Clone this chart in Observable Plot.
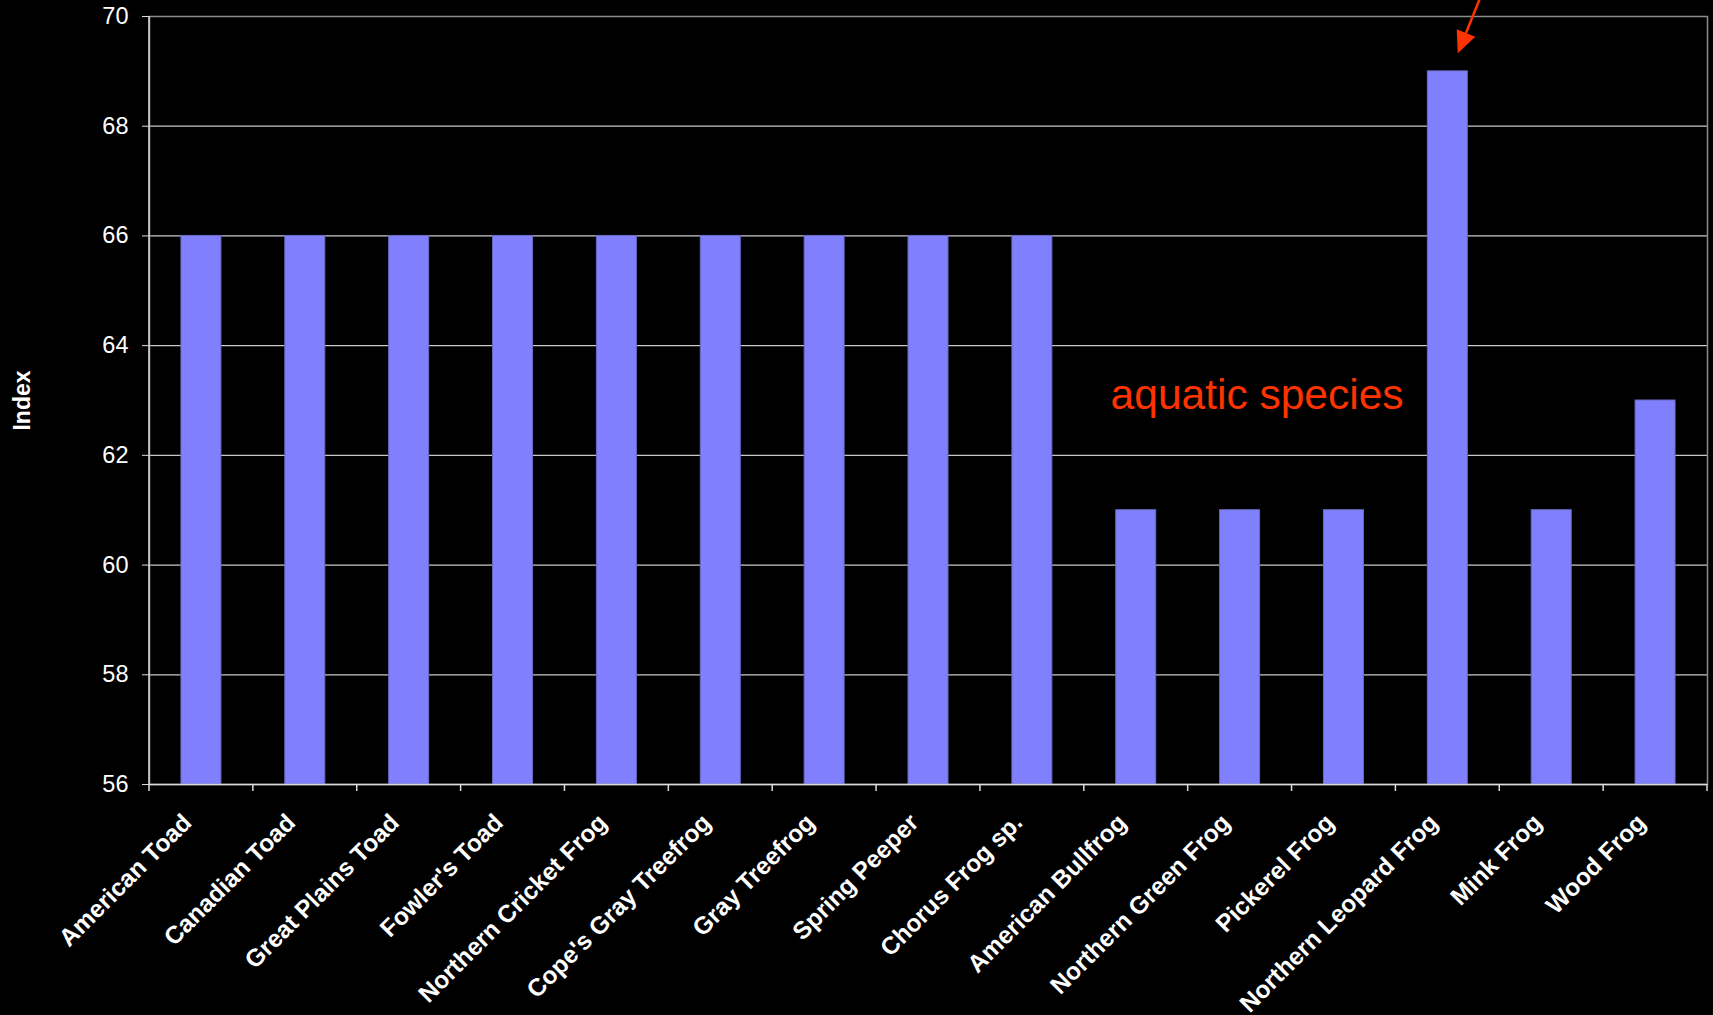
<!DOCTYPE html>
<html>
<head>
<meta charset="utf-8">
<script src="https://cdn.jsdelivr.net/npm/d3@7"></script>
<script src="https://cdn.jsdelivr.net/npm/@observablehq/plot@0.6"></script>
<style>
  html, body { margin: 0; padding: 0; background: #000; }
  #chart svg { display: block; }
</style>
</head>
<body>
<div id="chart"></div>
<script>
// Call index per species
const species = [
  "American Toad", "Canadian Toad", "Great Plains Toad", "Fowler's Toad",
  "Northern Cricket Frog", "Cope's Gray Treefrog", "Gray Treefrog",
  "Spring Peeper", "Chorus Frog sp.", "American Bullfrog",
  "Northern Green Frog", "Pickerel Frog", "Northern Leopard Frog",
  "Mink Frog", "Wood Frog"
];
const indexValues = [66, 66, 66, 66, 66, 66, 66, 66, 66, 61, 61, 61, 69, 61, 63];

const yTicks = [56, 58, 60, 62, 64, 66, 68, 70];
const yMin = 56, yMax = 70;

// Annotation text and the bar the arrow points at
const noteText = "aquatic species";
const noteSpecies = "Northern Green Frog";
const noteIndex = 63.1;
const arrowSpecies = "Northern Leopard Frog";
const arrowFromIndex = 70.7;   // starts above the plot, off the top edge
const arrowToIndex = 69.32;
const arrowFromShift = 0.395;  // horizontal shift from band centre, in band steps
const arrowToShift = 0.1;

const rows = species.map((s, i) => ({species: s, index: indexValues[i]}));

const FONT = "'Liberation Sans', Arial, Helvetica, sans-serif";
const RED = "#ff3300";

// Left axis line
function leftAxisLine(index, scales, values, dims) {
  const g = d3.create("svg:g");
  g.append("line")
    .attr("x1", dims.marginLeft).attr("x2", dims.marginLeft)
    .attr("y1", dims.marginTop).attr("y2", dims.height - dims.marginBottom)
    .attr("stroke", "#dcdcdc").attr("stroke-width", 1.5);
  return g.node();
}

// Category tick marks on the band boundaries
function boundaryTicks(index, scales, values, dims) {
  const x = scales.x;
  const step = x.step();
  const bw = x.bandwidth();
  const y0 = scales.y(yMin);
  const g = d3.create("svg:g").attr("stroke", "#dcdcdc").attr("stroke-width", 1.5);
  const edges = species.map(s => x(s) + bw / 2 - step / 2);
  edges.push(x(species[species.length - 1]) + bw / 2 + step / 2);
  for (const e of edges) {
    g.append("line").attr("x1", e).attr("x2", e).attr("y1", y0).attr("y2", y0 + 7);
  }
  return g.node();
}

// Red arrow pointing at the highlighted bar
function pointerArrow(index, scales) {
  const x = scales.x, y = scales.y;
  const step = x.step();
  const c = x(arrowSpecies) + x.bandwidth() / 2;
  const x1 = c + arrowFromShift * step, y1 = y(arrowFromIndex);
  const x2 = c + arrowToShift * step, y2 = y(arrowToIndex);
  const dx = x2 - x1, dy = y2 - y1, len = Math.hypot(dx, dy);
  const ux = dx / len, uy = dy / len;
  const headLen = 22, headHalf = 10;
  const bx = x2 - ux * headLen, by = y2 - uy * headLen;
  const g = d3.create("svg:g");
  g.append("line")
    .attr("x1", x1).attr("y1", y1).attr("x2", bx).attr("y2", by)
    .attr("stroke", RED).attr("stroke-width", 2.5);
  g.append("path")
    .attr("d", `M${x2},${y2}L${bx - uy * headHalf},${by + ux * headHalf}L${bx + uy * headHalf},${by - ux * headHalf}Z`)
    .attr("fill", RED);
  return g.node();
}

const chart = Plot.plot({
  width: 1713,
  height: 1015,
  marginLeft: 149,
  marginRight: 6,
  marginTop: 16,
  marginBottom: 231,
  style: {background: "#000", color: "#fff", fontFamily: FONT, fontSize: "23px"},
  x: {domain: species, paddingInner: 0.615, paddingOuter: 0.3075, round: false, label: null},
  y: {domain: [yMin, yMax], label: null},
  marks: [
    Plot.ruleY(yTicks.slice(1, -1), {stroke: "#c8c8c8", strokeWidth: 1.2}),
    Plot.frame({stroke: "#8c8c8c", strokeWidth: 1.5}),
    Plot.barY(rows, {
      x: "species", y1: () => yMin, y2: "index",
      fill: "#8080ff", stroke: "#6a6ac2", strokeWidth: 1
    }),
    Plot.ruleY([yMin], {stroke: "#dcdcdc", strokeWidth: 1.5}),
    leftAxisLine,
    boundaryTicks,
    Plot.axisY({
      ticks: yTicks, tickSize: 7, tickPadding: 14, stroke: "#dcdcdc",
      fill: "#fff", fontSize: 23.5, fontFamily: FONT
    }),
    Plot.axisX({
      tickRotate: -45, tickSize: 0, tickPadding: 34, dx: -14,
      fill: "#fff", fontSize: 24.5, fontWeight: "bold", fontFamily: FONT
    }),
    Plot.text(["Index"], {
      text: d => d, frameAnchor: "left", textAnchor: "middle", dx: -127, rotate: -90,
      fill: "#fff", fontSize: 23, fontWeight: "bold", fontFamily: FONT
    }),
    Plot.text([noteText], {
      text: d => d, x: () => noteSpecies, y: () => noteIndex, dx: 17,
      fill: RED, fontSize: 42.5, fontFamily: FONT
    }),
    pointerArrow
  ]
});

document.getElementById("chart").appendChild(chart);
</script>
</body>
</html>
